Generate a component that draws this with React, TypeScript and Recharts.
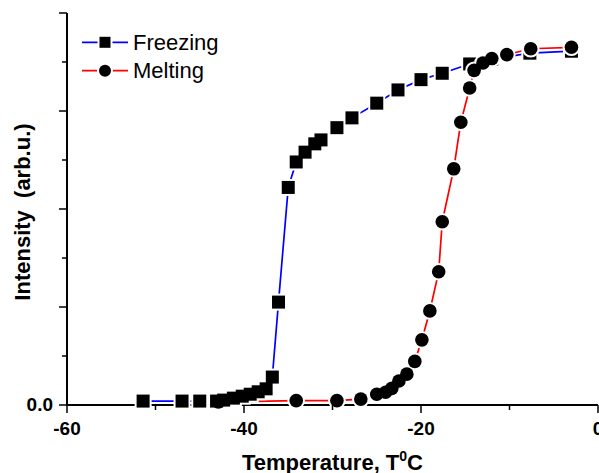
import { LineChart, Line, XAxis, YAxis } from "recharts";

// temperature (°C) and intensity (arb. units) for each run
const freezeTemp = [-51.4, -47.0, -45.0, -43.1, -42.3, -41.2, -40.2, -39.3, -38.4, -37.5, -36.8, -36.1, -35.0, -34.1, -33.1, -32.0, -31.3, -29.5, -27.8, -25.0, -22.6, -20.0, -17.6, -14.5, -12.0, -7.7, -3.0];
const freezeInt = [0.08, 0.08, 0.08, 0.08, 0.1, 0.14, 0.18, 0.22, 0.27, 0.33, 0.57, 2.1, 4.44, 4.96, 5.16, 5.33, 5.41, 5.66, 5.86, 6.16, 6.43, 6.64, 6.77, 6.96, 7.06, 7.18, 7.22];

const meltTemp = [-42.9, -34.1, -29.5, -26.8, -25.0, -24.0, -23.3, -22.5, -21.6, -20.7, -19.9, -19.0, -18.0, -17.6, -16.3, -15.5, -14.5, -14.0, -13.0, -12.0, -10.3, -7.6, -3.0];
const meltInt = [0.06, 0.09, 0.09, 0.12, 0.22, 0.26, 0.34, 0.49, 0.63, 0.89, 1.33, 1.92, 2.72, 3.74, 4.82, 5.77, 6.47, 6.83, 6.98, 7.07, 7.15, 7.27, 7.3];

const xTicks = [-60, -50, -40, -30, -20, -10, 0];
const xLabels = [-60, -40, -20, 0];
const yTicks = [0, 1, 2, 3, 4, 5, 6, 7, 8];

const freezing = freezeTemp.map((t, i) => ({ t, v: freezeInt[i] }));
const melting = meltTemp.map((t, i) => ({ t, v: meltInt[i] }));

const FONT = "'Liberation Sans', Arial, sans-serif";
const SQ = 13;
const R = 6.8;
const GAP = 2;

const squareHalo = (p: any) => (
  <rect key={`fh-${p.index}`} x={p.cx - SQ / 2 - GAP} y={p.cy - SQ / 2 - GAP} width={SQ + 2 * GAP} height={SQ + 2 * GAP} fill="#fff" />
);
const square = (p: any) => (
  <rect key={`fs-${p.index}`} x={p.cx - SQ / 2} y={p.cy - SQ / 2} width={SQ} height={SQ} fill="#000" />
);
// first melting point sits under the freezing squares, no halo there
const circleHalo = (p: any) =>
  p.index === 0 ? <g key={`mh-${p.index}`} /> : <circle key={`mh-${p.index}`} cx={p.cx} cy={p.cy} r={R + GAP} fill="#fff" />;
const circle = (p: any) => <circle key={`mc-${p.index}`} cx={p.cx} cy={p.cy} r={R} fill="#000" />;

const BottomTick = ({ x, y, payload }: any) => {
  const major = xLabels.includes(payload.value);
  return (
    <g>
      <line x1={x} x2={x} y1={y} y2={y + (major ? 8 : 5)} stroke="#000" strokeWidth={1.5} />
      {major && (
        <text x={x} y={y + 30} textAnchor="middle" fontFamily={FONT} fontWeight="bold" fontSize={19} fill="#000">
          {payload.value}
        </text>
      )}
    </g>
  );
};

const TopTick = ({ x, y, payload }: any) => {
  const major = xLabels.includes(payload.value);
  return <line x1={x} x2={x} y1={y} y2={y + (major ? 8 : 5)} stroke="#000" strokeWidth={1.5} />;
};

const LeftTick = ({ x, y, payload }: any) => {
  const major = payload.value % 2 === 0;
  return (
    <g>
      <line x1={x} x2={x - (major ? 8 : 5)} y1={y} y2={y} stroke="#000" strokeWidth={1.5} />
      {payload.value === 0 && (
        <text x={x - 14} y={y + 6} textAnchor="end" fontFamily={FONT} fontWeight="bold" fontSize={19} fill="#000">
          0.0
        </text>
      )}
    </g>
  );
};

const RightTick = ({ x, y, payload }: any) => {
  const major = payload.value % 2 === 0;
  return <line x1={x} x2={x - (major ? 8 : 5)} y1={y} y2={y} stroke="#000" strokeWidth={1.5} />;
};

const axisLine = { stroke: "#000", strokeWidth: 2 };

export default function App() {
  return (
    <div style={{ position: "absolute", left: 0, top: 0, background: "#fff" }}>
      <LineChart width={599} height={473} margin={{ top: 13, right: 1, bottom: 0, left: 0 }}>
        <XAxis
          xAxisId="b"
          type="number"
          dataKey="t"
          domain={[-60, 0]}
          ticks={xTicks}
          interval={0}
          height={68}
          tickSize={0}
          tickMargin={0}
          tickLine={false}
          axisLine={axisLine}
          tick={<BottomTick />}
        />
        <XAxis
          xAxisId="top"
          orientation="top"
          type="number"
          dataKey="t"
          domain={[-60, 0]}
          ticks={xTicks}
          interval={0}
          height={0}
          tickSize={0}
          tickMargin={0}
          tickLine={false}
          axisLine={axisLine}
          tick={<TopTick />}
        />
        <YAxis
          yAxisId="l"
          type="number"
          domain={[0, 8]}
          ticks={yTicks}
          interval={0}
          width={67}
          tickSize={0}
          tickMargin={0}
          tickLine={false}
          axisLine={axisLine}
          tick={<LeftTick />}
        />
        <YAxis
          yAxisId="r"
          orientation="right"
          type="number"
          domain={[0, 8]}
          ticks={yTicks}
          interval={0}
          width={0}
          tickSize={0}
          tickMargin={0}
          tickLine={false}
          axisLine={axisLine}
          tick={<RightTick />}
        />

        <Line xAxisId="b" yAxisId="l" data={freezing} dataKey="v" type="linear" stroke="#0000ff" strokeWidth={1.7} dot={squareHalo} activeDot={false} isAnimationActive={false} />
        <Line xAxisId="b" yAxisId="l" data={freezing} dataKey="v" type="linear" stroke="none" dot={square} activeDot={false} isAnimationActive={false} />
        <Line xAxisId="b" yAxisId="l" data={melting} dataKey="v" type="linear" stroke="#ff0000" strokeWidth={1.7} dot={circleHalo} activeDot={false} isAnimationActive={false} />
        <Line xAxisId="b" yAxisId="l" data={melting} dataKey="v" type="linear" stroke="none" dot={circle} activeDot={false} isAnimationActive={false} />

        {/* legend */}
        <g>
          <line x1={82} x2={128} y1={42.3} y2={42.3} stroke="#0000ff" strokeWidth={1.7} />
          <rect x={105 - 7.5} y={42.3 - 7.5} width={15} height={15} fill="#fff" />
          <rect x={105 - 5.5} y={42.3 - 5.5} width={11} height={11} fill="#000" />
          <text x={133} y={49.5} fontFamily={FONT} fontSize={22} fill="#000">Freezing</text>
          <line x1={82} x2={128} y1={70.7} y2={70.7} stroke="#ff0000" strokeWidth={1.7} />
          <circle cx={105} cy={70.7} r={8} fill="#fff" />
          <circle cx={105} cy={70.7} r={6} fill="#000" />
          <text x={133} y={77.5} fontFamily={FONT} fontSize={22} fill="#000">Melting</text>
        </g>

        {/* axis titles */}
        <text x={242} y={470} fontFamily={FONT} fontWeight="bold" fontSize={22} fill="#000">
          Temperature, T
          <tspan fontSize={14} dy={-9}>0</tspan>
          <tspan dy={9}>C</tspan>
        </text>
        <text
          x={30}
          y={212}
          transform="rotate(-90, 30, 212)"
          textAnchor="middle"
          fontFamily={FONT}
          fontWeight="bold"
          fontSize={22}
          fill="#000"
        >
          {"Intensity\u00a0 (arb.u.)"}
        </text>
      </LineChart>
    </div>
  );
}
